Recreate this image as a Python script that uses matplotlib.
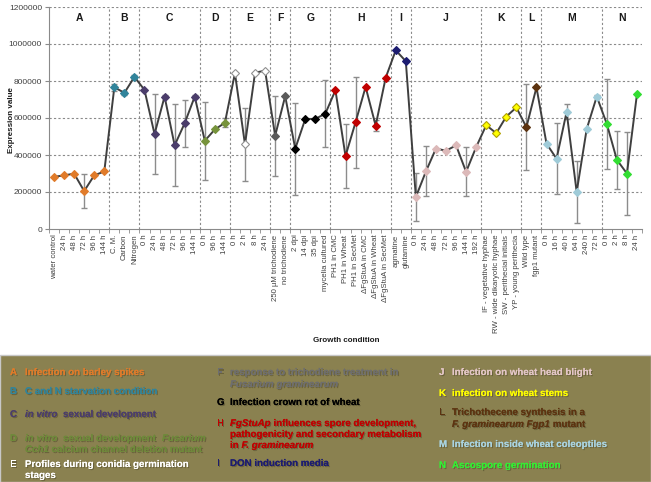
import numpy as np
import matplotlib
matplotlib.use("Agg")
import matplotlib.pyplot as plt
import matplotlib.patheffects as pe
from matplotlib.transforms import IdentityTransform

plt.rcParams['font.family'] = ['Liberation Sans', 'DejaVu Sans']

# ---- data ----
group_letters = ["A", "B", "C", "D", "E", "F", "G", "H", "I", "J", "K", "L", "M", "N"]
group_sizes = [6, 3, 6, 3, 4, 2, 4, 6, 2, 7, 4, 2, 6, 4]
group_colors = ["#e07b2a", "#31849b", "#4b3d6b", "#77933c", "#ffffff", "#5a5a5a", "#000000",
                "#c00000", "#1c1c70", "#dcb9b9", "#ffff00", "#5c3310", "#9fcbd8", "#33dd33"]

labels = ["water control", "24 h", "48 h", "72 h", "96 h", "144 h",
          "C. M.", "Carbon", "Nitrogen",
          "0 h", "24 h", "48 h", "72 h", "96 h", "144 h",
          "0 h", "96 h", "144 h",
          "0 h", "2 h", "8 h", "24 h",
          "250 µM trichodiene", "no trichodiene",
          "2 dpi", "14 dpi", "35 dpi", "mycelia cultured",
          "PH1 in CMC", "PH1 in Wheat", "PH1 in SecMet",
          "ΔFgStuA in CMC", "ΔFgStuA in Wheat", "ΔFgStuA in SecMet",
          "agmatine", "glutamine",
          "0 h", "24 h", "48 h", "72 h", "96 h", "144 h", "192 h",
          "IF - vegetative hyphae", "RW - wide dikaryotic hyphae",
          "SW - perithecial initials", "YP - young perithecia",
          "Wild type", "fgp1 mutant",
          "0 h", "16 h", "40 h", "64 h", "240 h", "72 h",
          "0 h", "2 h", "8 h", "24 h"]

values = [282000, 290000, 299000, 205000, 290000, 311000,
          766000, 736000, 822000,
          752000, 513000, 716000, 452000, 572000, 716000,
          477000, 538000, 574000,
          842000, 457000, 845000, 856000,
          504000, 718000,
          434000, 595000, 595000, 624000,
          750000, 394000, 577000, 768000, 559000, 818000,
          966000, 907000,
          173000, 311000, 435000, 423000, 452000, 309000, 443000,
          561000, 518000, 608000, 657000,
          550000, 766000,
          461000, 380000, 633000, 200000, 541000, 716000,
          568000, 374000, 300000, 729000]

errors = [0, 0, 0, 92000, 0, 0,
          20000, 12000, 10000,
          0, 218000, 8000, 222000, 128000, 10000,
          210000, 0, 24000,
          0, 196000, 0, 0,
          216000, 0,
          249000, 0, 0, 179000,
          0, 173000, 247000, 0, 30000, 0,
          0, 0,
          128000, 135000, 0, 0, 0, 133000, 0,
          0, 0, 0, 0,
          233000, 0,
          0, 193000, 40000, 170000, 0, 10000,
          244000, 158000, 226000, 0]

W, H = 651, 482
fig = plt.figure(figsize=(W / 100, H / 100), dpi=100)
ax = fig.add_axes([49 / W, 1 - 229 / H, 593 / W, 222 / H])

x = np.arange(len(values))
vals = np.array(values, dtype=float)
errs = np.array(errors, dtype=float)

# error bars only where there is one
m = errs > 0
ax.errorbar(x[m], vals[m], yerr=errs[m], fmt="none", ecolor="#8c8c8c",
            elinewidth=1, capsize=2, capthick=1, zorder=2)

ax.plot(x, vals, color="#3f3f3f", lw=1.4, zorder=3)

bounds = np.cumsum([0] + group_sizes)
for i, letter in enumerate(group_letters):
    s, e = bounds[i], bounds[i + 1]
    c = group_colors[i]
    ec = "#909090" if c == "#ffffff" else ("#b0a000" if c == "#ffff00" else c)
    ax.plot(x[s:e], vals[s:e], ls="none", marker="D", ms=4.0, mfc=c, mec=ec,
            mew=0.8, zorder=4)
    ax.text((s + e - 1) / 2, 1140000, letter, ha="center", va="center",
            fontsize=7.5, fontweight="bold", color="#1a1a1a")
    if i < len(group_letters) - 1:
        ax.axvline(e - 0.5, color="#8a8a8a", lw=0.8, ls=(0, (2, 2)), zorder=1)

ax.set_xlim(-0.5, len(values) - 0.5)
ax.set_ylim(0, 1200000)
ax.set_yticks(np.arange(0, 1200001, 200000))
ax.set_yticklabels([str(v) for v in range(0, 1200001, 200000)], fontsize=6, color="#404040")
for v in range(200000, 1200001, 200000):
    ax.axhline(v, color="#8a8a8a", lw=0.8, ls=(0, (2, 2)), zorder=1)

ax.set_xticks(x)
ax.set_xticklabels(labels, rotation=90, fontsize=5.6, color="#404040")
ax.tick_params(axis="x", length=0, pad=4)
ax.set_xticks(np.arange(-0.5, len(values), 1), minor=True)
ax.tick_params(axis="x", which="minor", length=3, color="#8a8a8a")
ax.tick_params(axis="y", length=3, color="#8a8a8a", pad=2)

for sp in ["top", "right"]:
    ax.spines[sp].set_visible(False)
for sp in ["left", "bottom"]:
    ax.spines[sp].set_color("#8a8a8a")
    ax.spines[sp].set_linewidth(0.8)

fig.text(12 / W, 1 - 120 / H, "Expression value", rotation=90, ha="center", va="center",
         fontsize=5.8, fontweight="bold", color="#1a1a1a")
fig.text(346 / W, 1 - 340 / H, "Growth condition", ha="center", va="center",
         fontsize=5.8, fontweight="bold", color="#1a1a1a")

# ---- legend box at the bottom ----
fig.patches.append(plt.Rectangle((0, 0), 1, 1 - 355 / H, transform=fig.transFigure,
                                 facecolor="#8a8150", edgecolor="#c8c8c8", lw=1,
                                 zorder=0))

shadow = [pe.withSimplePatchShadow(offset=(0.8, -0.8), shadow_rgbFace="#3a3520", alpha=0.4),
          pe.Normal()]
renderer = fig.canvas.get_renderer()


def legend_line(px, py, parts, color, size=7.0):
    # parts: list of (text, italic) drawn one after another
    cur = px
    for s, it in parts:
        t = fig.text(cur, H - py, s, transform=IdentityTransform(), color=color,
                     fontsize=size, fontweight="bold",
                     style="italic" if it else "normal", va="center", ha="left",
                     path_effects=shadow)
        cur = t.get_window_extent(renderer).x1


legend_items = [
    (10, 25, "A", [[("Infection on barley spikes", False)]], [372], "#e07b2a"),
    (10, 25, "B", [[("C and N starvation condition", False)]], [391], "#31849b"),
    (10, 25, "C", [[("in vitro", True), ("  sexual development", False)]], [414], "#4b3d6b"),
    (10, 25, "D", [[("in vitro", True), ("  sexual development  ", False), ("Fusarium", True)],
                   [("Cch1", True), (" calcium channel deletion mutant", False)]], [438, 449], "#6e8a3a"),
    (10, 25, "E", [[("Profiles during conidia germination", False)], [("stages", False)]], [464, 475], "#ffffff"),
    (217, 230, "F", [[("response to trichodiene treatment in", False)],
                     [("Fusarium graminearum", True)]], [372, 384], "#6e6e6e"),
    (217, 230, "G", [[("Infection crown rot of wheat", False)]], [402], "#000000"),
    (217, 230, "H", [[("FgStuAp", True), (" influences spore development,", False)],
                     [("pathogenicity and secondary metabolism", False)],
                     [("in ", False), ("F. graminearum", True)]], [423, 434, 445], "#c00000"),
    (217, 230, "I", [[("DON induction media", False)]], [463], "#1c1c70"),
    (439, 452, "J", [[("Infection on wheat head blight", False)]], [372], "#e3c6c6"),
    (439, 452, "K", [[("infection on wheat stems", False)]], [393], "#ffff00"),
    (439, 452, "L", [[("Trichothecene synthesis in a", False)],
                     [("F. graminearum Fgp1", True), (" mutant", False)]], [412, 424], "#5c3310"),
    (439, 452, "M", [[("Infection inside wheat coleoptiles", False)]], [444], "#a9d3e0"),
    (439, 452, "N", [[("Ascospore germination", False)]], [465], "#33ee33"),
]

for lx, tx, letter, lines, ys, col in legend_items:
    legend_line(lx, ys[0], [(letter, False)], col)
    for parts, yy in zip(lines, ys):
        legend_line(tx, yy, parts, col)

fig.savefig("out.png", dpi=100)
